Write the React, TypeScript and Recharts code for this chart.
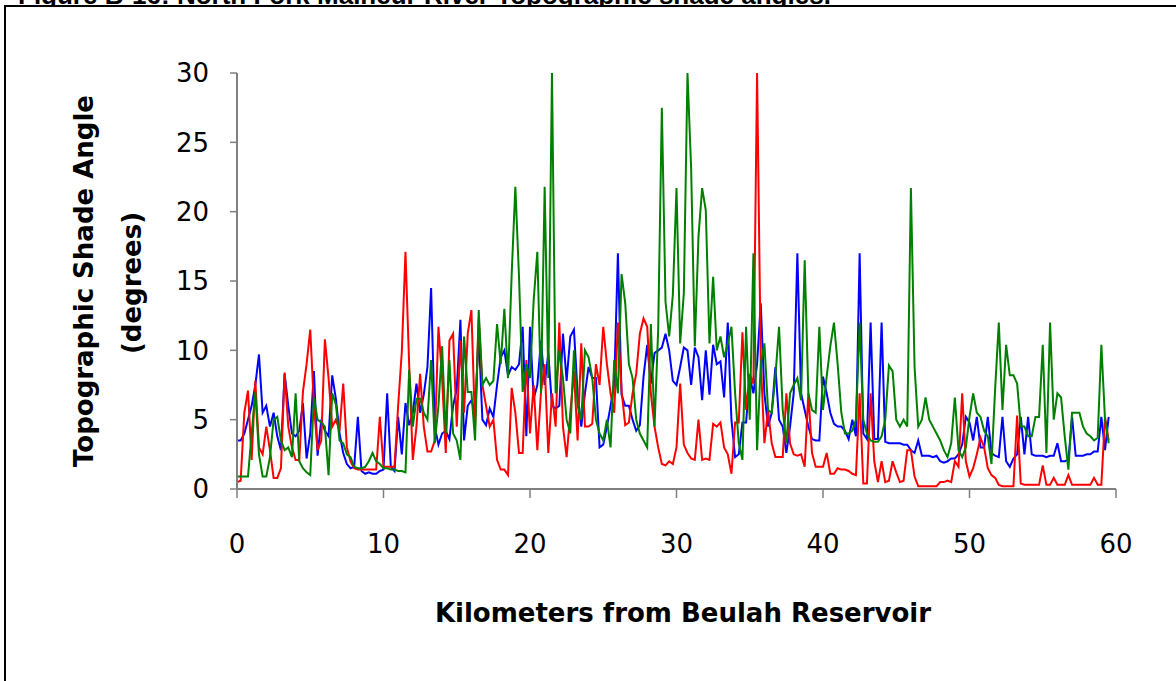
import { Line, LineChart, XAxis, YAxis } from "recharts";

// Shade angles (degrees) sampled every 0.25 km downstream of the reservoir.
const STEP_KM = 0.25;

const shadeBlue = [
  3.5, 3.5, 4.0, 5.0, // 0
  6.0, 7.5, 9.7, 5.5,
  6.0, 4.5, 5.5, 3.8,
  2.8, 8.3, 6.0, 4.0,
  3.8, 4.2, 6.2, 2.2,
  4.0, 8.5, 2.4, 5.0, // 5
  4.2, 3.8, 8.2, 6.5,
  4.0, 2.6, 1.8, 1.5,
  1.6, 5.2, 1.3, 1.1,
  1.2, 1.1, 1.1, 1.3,
  1.4, 6.9, 1.6, 1.3, // 10
  5.2, 2.5, 6.2, 4.6,
  5.5, 7.6, 5.5, 6.8,
  8.8, 14.5, 4.5, 3.2,
  4.0, 4.2, 3.6, 6.0,
  7.2, 12.2, 3.5, 6.0, // 15
  6.4, 5.5, 11.2, 5.0,
  4.6, 5.8, 5.2, 7.5,
  9.5, 10.0, 8.2, 8.8,
  8.6, 9.0, 11.7, 3.8,
  11.7, 6.5, 7.5, 10.7, // 20
  7.5, 9.8, 6.0, 5.8,
  6.0, 11.2, 7.8, 11.0,
  11.5, 6.9, 4.5, 6.9,
  8.8, 8.0, 8.0, 3.0,
  3.2, 4.5, 6.0, 7.6, // 25
  17.0, 6.8, 6.0, 6.0,
  5.0, 4.2, 4.6, 8.1,
  10.4, 7.6, 9.8, 10.0,
  10.2, 11.2, 10.0, 7.8,
  7.5, 8.8, 10.2, 10.0, // 30
  7.5, 10.2, 9.5, 6.4,
  10.0, 6.8, 10.4, 9.0,
  9.2, 6.6, 12.0, 5.0,
  2.3, 2.5, 4.8, 4.8,
  8.1, 6.9, 9.0, 13.4, // 35
  6.9, 4.5, 5.5, 8.8,
  5.0, 4.5, 2.6, 4.5,
  6.9, 17.0, 6.9, 5.7,
  4.5, 3.6, 3.5, 3.5,
  8.1, 6.9, 5.5, 4.7, // 40
  4.5, 4.5, 4.2, 3.6,
  5.0, 3.8, 17.0, 4.0,
  3.6, 12.0, 3.6, 3.6,
  12.0, 3.4, 3.3, 3.3,
  3.3, 3.3, 3.2, 3.2, // 45
  2.8, 2.6, 3.5, 2.4,
  2.4, 2.4, 2.3, 2.4,
  2.0, 1.9, 2.0, 2.2,
  2.2, 2.5, 3.2, 5.2,
  4.8, 3.5, 5.2, 3.0, // 50
  3.0, 5.2, 2.6, 2.4,
  2.3, 5.2, 2.0, 1.6,
  2.2, 2.5, 5.2, 2.5,
  5.2, 2.5, 2.4, 2.4,
  2.4, 2.3, 2.4, 2.4, // 55
  3.3, 2.0, 2.0, 2.1,
  5.2, 2.4, 2.4, 2.4,
  2.5, 2.5, 2.7, 2.7,
  5.2, 2.8, 5.2,
];

const shadeRed = [
  0.5, 0.6, 5.5, 7.1, // 0
  2.1, 7.8, 3.0, 2.5,
  4.5, 2.8, 0.8, 0.8,
  1.5, 8.4, 4.5, 3.0,
  2.1, 2.1, 7.0, 9.0,
  11.5, 6.0, 2.8, 3.5, // 5
  10.8, 8.0, 4.5, 5.0,
  4.2, 7.6, 3.0, 2.0,
  1.5, 1.4, 1.4, 1.4,
  1.4, 1.4, 1.4, 5.2,
  1.6, 1.6, 1.6, 1.6, // 10
  6.0, 9.9, 17.1, 9.0,
  2.1, 4.5, 8.3, 4.5,
  2.7, 2.7, 3.5, 11.7,
  8.0, 2.6, 10.7, 11.2,
  4.5, 10.7, 5.5, 11.2, // 15
  12.9, 4.5, 12.3, 7.5,
  6.0, 4.5, 5.0, 2.1,
  1.4, 1.4, 1.0, 7.3,
  5.5, 2.6, 2.6, 9.3,
  4.0, 7.5, 2.8, 7.0, // 20
  9.0, 2.6, 6.9, 4.5,
  12.0, 4.5, 2.3, 5.5,
  8.5, 3.5, 10.5, 4.5,
  4.5, 4.7, 9.0, 7.5,
  11.7, 9.0, 6.9, 5.5, // 25
  12.0, 7.1, 4.6, 4.8,
  6.9, 8.3, 11.2, 12.3,
  11.7, 6.9, 4.5, 3.0,
  1.8, 1.7, 2.0, 1.8,
  3.0, 7.6, 3.2, 2.6, // 30
  2.2, 2.1, 5.0, 2.1,
  2.2, 2.1, 4.7, 4.5,
  4.8, 3.0, 2.5, 1.1,
  4.8, 4.8, 11.3, 5.7,
  8.3, 7.6, 30.0, 9.3, // 35
  3.3, 5.7, 3.3, 2.3,
  2.3, 2.3, 6.9, 3.3,
  2.5, 2.4, 2.5, 1.6,
  6.9, 2.6, 1.6, 1.6,
  1.6, 2.6, 1.1, 1.1, // 40
  1.5, 1.4, 1.4, 1.3,
  1.1, 1.0, 6.9, 0.4,
  0.4, 6.9, 2.0, 0.5,
  2.0, 0.5, 0.6, 2.0,
  1.2, 0.5, 0.6, 2.8, // 45
  2.8, 0.9, 0.2, 0.2,
  0.2, 0.2, 0.2, 0.2,
  0.5, 0.5, 0.6, 0.5,
  2.0, 1.6, 6.9, 2.0,
  0.9, 1.5, 2.5, 3.7, // 50
  3.0, 1.5, 1.0, 0.8,
  0.3, 0.2, 0.2, 0.2,
  0.2, 5.3, 0.4, 0.3,
  0.3, 0.3, 0.3, 0.3,
  1.7, 0.3, 0.3, 0.8, // 55
  0.3, 0.3, 0.3, 1.0,
  0.3, 0.3, 0.3, 0.3,
  0.3, 0.3, 0.8, 0.3,
  0.3, 5.2, 3.5,
];

const shadeGreen = [
  0.9, 0.9, 0.9, 0.9, // 0
  4.0, 7.0, 2.5, 0.9,
  0.9, 2.3, 5.0, 5.2,
  3.5, 2.8, 3.0, 2.3,
  6.9, 2.0, 1.5, 1.2,
  1.0, 6.6, 5.0, 4.8, // 5
  4.5, 1.0, 6.9, 6.1,
  3.5, 3.3, 2.5, 2.3,
  1.6, 1.5, 1.5, 1.6,
  2.0, 2.6, 2.0, 1.8,
  1.5, 1.5, 1.4, 1.4, // 10
  1.3, 1.3, 1.2, 8.6,
  4.5, 6.5, 6.5, 5.5,
  5.0, 9.3, 3.3, 6.0,
  10.3, 4.0, 9.3, 4.0,
  3.5, 2.1, 11.0, 7.0, // 15
  7.0, 3.5, 12.9, 7.5,
  8.0, 7.5, 7.8, 11.9,
  9.0, 13.0, 8.0, 15.5,
  21.8, 15.3, 7.0, 9.0,
  8.0, 13.6, 17.1, 6.9, // 20
  21.8, 8.0, 30.0, 6.9,
  10.0, 8.0, 5.0, 4.0,
  10.0, 6.0, 5.0, 10.0,
  9.5, 8.0, 5.0, 4.0,
  3.5, 5.0, 3.0, 9.3, // 25
  6.9, 15.5, 13.4, 9.0,
  8.0, 5.0, 4.0, 3.5,
  3.0, 11.9, 4.5, 11.5,
  27.5, 13.5, 11.0, 14.0,
  21.7, 10.5, 14.1, 30.0, // 30
  23.1, 10.3, 18.2, 21.7,
  20.1, 10.5, 15.3, 10.0,
  11.0, 9.5, 10.5, 11.7,
  6.9, 3.3, 2.1, 11.7,
  5.0, 17.0, 2.8, 9.0, // 35
  10.5, 5.7, 5.5, 8.1,
  11.7, 5.7, 3.3, 6.9,
  7.5, 8.0, 6.4, 16.5,
  6.9, 5.7, 5.5, 11.7,
  5.7, 8.1, 10.3, 12.0, // 40
  9.0, 5.5, 4.0, 4.0,
  4.2, 5.0, 12.0, 5.0,
  4.0, 3.5, 3.4, 3.4,
  3.8, 5.0, 8.9, 8.5,
  5.0, 4.5, 5.0, 4.5, // 45
  21.7, 8.8, 4.5, 5.0,
  6.6, 5.0, 4.5, 4.0,
  3.5, 2.8, 2.3, 3.3,
  6.6, 2.8, 2.3, 3.0,
  5.2, 6.9, 5.5, 5.2, // 50
  4.2, 3.8, 1.8, 7.2,
  12.0, 5.7, 10.4, 8.2,
  8.2, 7.6, 4.5, 4.5,
  3.8, 3.8, 5.2, 5.2,
  10.4, 2.6, 12.0, 5.0, // 55
  6.9, 6.6, 3.8, 1.4,
  5.5, 5.5, 5.5, 4.5,
  4.0, 3.8, 3.5, 3.7,
  10.4, 5.0, 3.3,
];

const kmStations = shadeBlue.map((_, i) => i * STEP_KM);
const kmTicks = [0, 10, 20, 30, 40, 50, 60];
const degreeTicks = [0, 5, 10, 15, 20, 25, 30];

const rows = kmStations.map((km, i) => ({
  km,
  blue: shadeBlue[i],
  red: shadeRed[i],
  green: shadeGreen[i],
}));

const FONT = "'DejaVu Sans', Verdana, sans-serif";
const AXIS_GREY = "#7f7f7f";

export default function App() {
  return (
    <div
      style={{
        position: "absolute",
        left: 0,
        top: 0,
        width: 1176,
        height: 681,
        overflow: "hidden",
        background: "#fff",
      }}
    >
      {/* figure caption sits above the frame and is clipped by the page top */}
      <div
        style={{
          position: "absolute",
          left: 18,
          top: -18,
          fontFamily: "'Liberation Sans', Arial, sans-serif",
          fontWeight: 700,
          fontSize: 26,
          lineHeight: "26px",
          whiteSpace: "nowrap",
        }}
      >
        Figure B-16: North Fork Malheur River Topographic shade angles.
      </div>
      <div
        style={{
          position: "absolute",
          left: 4,
          top: 5,
          width: 1220,
          height: 720,
          border: "2px solid #000",
          background: "#fff",
        }}
      />

      <div style={{ position: "absolute", left: 0, top: 0 }}>
        <LineChart
          width={1176}
          height={681}
          data={rows}
          margin={{ top: 73, right: 60, bottom: 112, left: 0 }}
        >
          <XAxis
            dataKey="km"
            type="number"
            domain={[0, 60]}
            ticks={kmTicks}
            interval={0}
            height={80}
            tickSize={9}
            tickMargin={37}
            axisLine={{ stroke: AXIS_GREY, strokeWidth: 2 }}
            tickLine={{ stroke: AXIS_GREY, strokeWidth: 1.5 }}
            tick={{ fontSize: 26, fill: "#000", fontFamily: FONT }}
          />
          <YAxis
            type="number"
            domain={[0, 30]}
            ticks={degreeTicks}
            interval={0}
            allowDataOverflow
            width={237}
            tickSize={7}
            tickMargin={21}
            axisLine={{ stroke: AXIS_GREY, strokeWidth: 2 }}
            tickLine={{ stroke: AXIS_GREY, strokeWidth: 1.5 }}
            tick={{ fontSize: 26, fill: "#000", fontFamily: FONT }}
          />
          <Line
            type="linear"
            dataKey="blue"
            stroke="#0000ff"
            strokeWidth={2}
            dot={false}
            isAnimationActive={false}
          />
          <Line
            type="linear"
            dataKey="red"
            stroke="#ff0000"
            strokeWidth={2}
            dot={false}
            isAnimationActive={false}
          />
          <Line
            type="linear"
            dataKey="green"
            stroke="#008000"
            strokeWidth={2}
            dot={false}
            isAnimationActive={false}
          />
        </LineChart>
      </div>

      <div
        style={{
          position: "absolute",
          left: 683,
          top: 613,
          transform: "translate(-50%, -50%)",
          fontFamily: FONT,
          fontWeight: 700,
          fontSize: 26,
          whiteSpace: "nowrap",
        }}
      >
        Kilometers from Beulah Reservoir
      </div>
      <div
        style={{
          position: "absolute",
          left: 84,
          top: 281,
          transform: "translate(-50%, -50%) rotate(-90deg)",
          fontFamily: FONT,
          fontWeight: 700,
          fontSize: 26,
          whiteSpace: "nowrap",
        }}
      >
        Topographic Shade Angle
      </div>
      <div
        style={{
          position: "absolute",
          left: 132,
          top: 283,
          transform: "translate(-50%, -50%) rotate(-90deg)",
          fontFamily: FONT,
          fontWeight: 700,
          fontSize: 26,
          whiteSpace: "nowrap",
        }}
      >
        (degrees)
      </div>
    </div>
  );
}
